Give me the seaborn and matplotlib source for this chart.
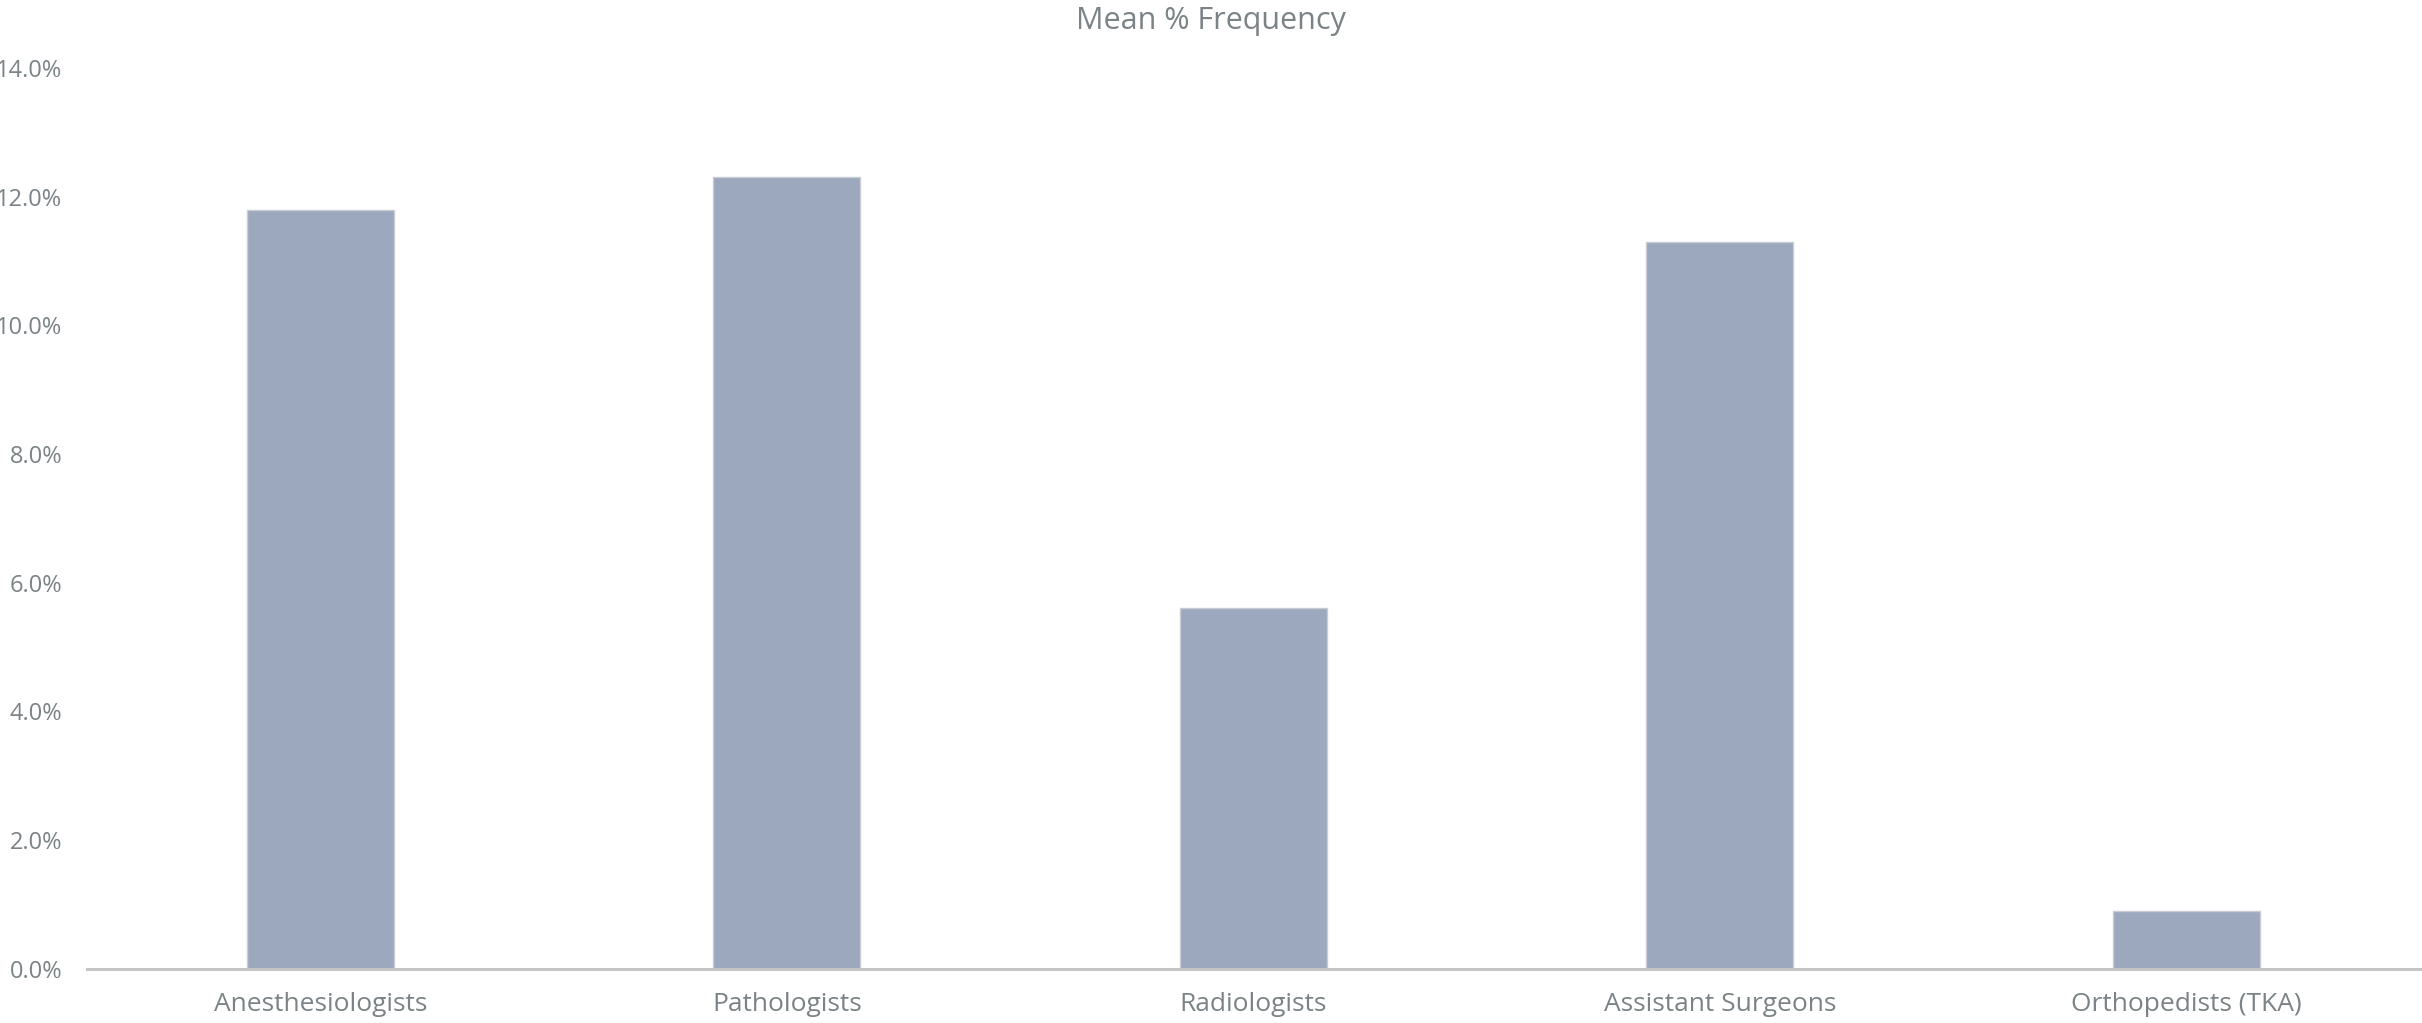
import matplotlib
matplotlib.use("Agg")
import matplotlib.pyplot as plt
import seaborn as sns
import pandas as pd
from matplotlib.ticker import PercentFormatter, MultipleLocator

categories = ["Anesthesiologists", "Pathologists", "Radiologists",
              "Assistant Surgeons", "Orthopedists (TKA)"]
mean_pct = [11.8, 12.3, 5.6, 11.3, 0.9]
title = "Mean % Frequency"

df = pd.DataFrame({"specialty": categories, "pct": mean_pct})

sns.set_theme(style="white")
plt.rcParams["font.family"] = ["Open Sans", "DejaVu Sans"]

text_color = "#7b8386"
bar_color = "#9ca8bd"

fig = plt.figure(figsize=(24.22, 10.23), dpi=100)
ax = fig.add_axes([0.036, 0.053, 0.963, 0.8805])

sns.barplot(data=df, x="specialty", y="pct", color=bar_color, width=0.315,
            saturation=1, edgecolor="#c9ccd2", linewidth=1.0, ax=ax)

ax.set_ylim(0, 14)
ax.set_xlim(-0.5, len(categories) - 0.5)
ax.yaxis.set_major_locator(MultipleLocator(2))
ax.yaxis.set_major_formatter(PercentFormatter(decimals=1))

ax.set_xlabel("")
ax.set_ylabel("")
for side in ["top", "right", "left"]:
    ax.spines[side].set_visible(False)
ax.spines["bottom"].set_color("#c4c4c4")
ax.spines["bottom"].set_linewidth(2.2)

ax.tick_params(axis="y", length=0, pad=18, labelsize=17, labelcolor=text_color)
ax.tick_params(axis="x", length=0, pad=17, labelsize=19, labelcolor=text_color)
for lbl in ax.get_yticklabels():
    lbl.set_horizontalalignment("right")

fig.text(0.5, 0.979, title, ha="center", va="center",
         fontsize=22, color=text_color)

fig.savefig("out.png", dpi=100, facecolor="white")
